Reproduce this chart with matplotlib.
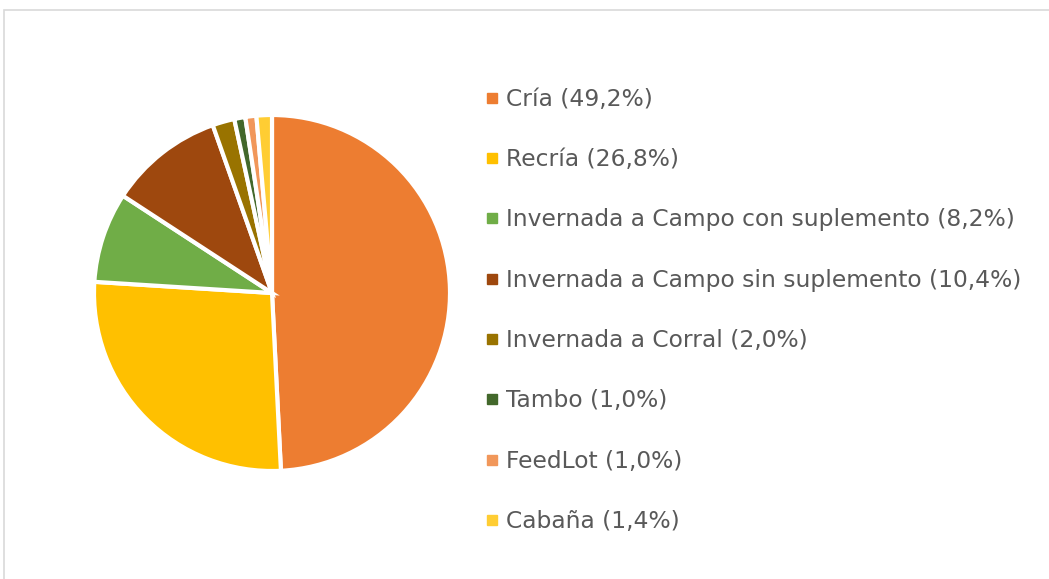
import matplotlib
matplotlib.use("Agg")
import matplotlib.pyplot as plt
from matplotlib.lines import Line2D
from matplotlib.patches import Rectangle

categories = ["Cría", "Recría", "Invernada a Campo con suplemento",
              "Invernada a Campo sin suplemento", "Invernada a Corral",
              "Tambo", "FeedLot", "Cabaña"]
values = [49.2, 26.8, 8.2, 10.4, 2.0, 1.0, 1.0, 1.4]
labels = ["Cría (49,2%)", "Recría (26,8%)", "Invernada a Campo con suplemento (8,2%)",
          "Invernada a Campo sin suplemento (10,4%)", "Invernada a Corral (2,0%)",
          "Tambo (1,0%)", "FeedLot (1,0%)", "Cabaña (1,4%)"]
colors = ["#ED7D31", "#FFC000", "#70AD47", "#9E480E", "#997300",
          "#43682B", "#F1975A", "#FFCD33"]

W, H = 1049, 579
fig = plt.figure(figsize=(W/100, H/100), dpi=100)
fig.patch.set_facecolor("white")

# chart area border (partially cropped)
fig.patches.append(Rectangle((4/W, -0.1), 1.2, 1 - 10/H + 0.1, transform=fig.transFigure,
                             fill=False, edgecolor="#D9D9D9", linewidth=1.2))

cx, cy, r = 272, 293, 178
ax = fig.add_axes([(cx - r)/W, (H - cy - r)/H, 2*r/W, 2*r/H])
ax.pie(values, colors=colors, startangle=90, counterclock=False,
       wedgeprops=dict(edgecolor="white", linewidth=3))
ax.set_aspect("auto")
ax.set_xlim(-1, 1); ax.set_ylim(-1, 1)
ax.axis("off")

handles = [Line2D([], [], linestyle="none", marker="s", markersize=6.5,
                  markerfacecolor=c, markeredgecolor=c) for c in colors]
fig.legend(handles, labels, loc="upper left", bbox_to_anchor=(473/W, 1 - 76/H),
           frameon=False, fontsize=16.8, labelcolor="#595959",
           labelspacing=1.60, handlelength=0.6, handletextpad=0.3, borderpad=0)

fig.savefig("out.png", dpi=100)
